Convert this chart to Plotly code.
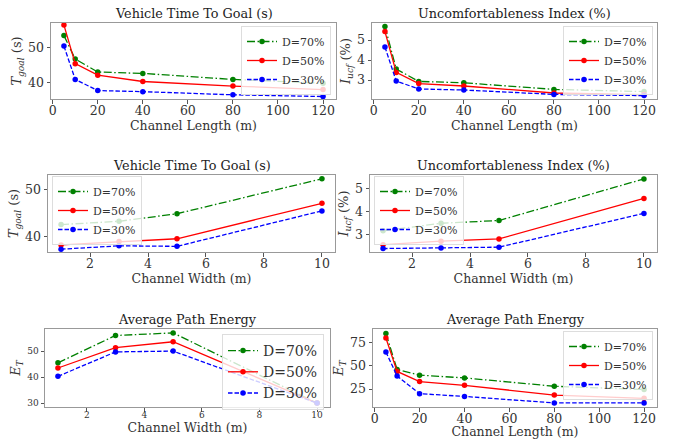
import plotly.graph_objects as go

# ---- data ----
length_x = [5, 10, 20, 40, 80, 120]
width_x = [1, 3, 5, 10]
labels = ["D=70%", "D=50%", "D=30%"]

tgoal_len = {
    "D=70%": [53.5, 46.8, 43.1, 42.7, 41.0, 39.9],
    "D=50%": [56.5, 45.5, 42.2, 40.4, 39.1, 38.1],
    "D=30%": [50.5, 41.0, 37.8, 37.5, 36.6, 36.1],
}
iucf_len = {
    "D=70%": [5.68, 3.55, 2.93, 2.86, 2.53, 2.42],
    "D=50%": [5.42, 3.38, 2.82, 2.70, 2.35, 2.27],
    "D=30%": [4.65, 2.95, 2.55, 2.50, 2.28, 2.22],
}
tgoal_wid = {
    "D=70%": [42.5, 43.2, 44.8, 52.2],
    "D=50%": [38.2, 38.9, 39.5, 47.0],
    "D=30%": [37.3, 38.0, 37.9, 45.4],
}
iucf_wid = {
    "D=70%": [3.17, 3.50, 3.62, 5.43],
    "D=50%": [2.57, 2.72, 2.82, 4.58],
    "D=30%": [2.40, 2.42, 2.46, 3.93],
}
energy_wid = {
    "D=70%": [45.5, 56.0, 57.0, 30.0],
    "D=50%": [43.5, 51.3, 53.6, 30.0],
    "D=30%": [40.3, 49.7, 50.0, 30.0],
}
energy_len = {
    "D=70%": [85.0, 46.0, 40.0, 37.0, 28.0, 24.5],
    "D=50%": [80.0, 44.0, 33.0, 29.0, 18.5, 15.0],
    "D=30%": [65.0, 39.0, 20.0, 17.0, 10.0, 10.0],
}

length_ticks = [0, 20, 40, 60, 80, 100, 120]
width_ticks = [2, 4, 6, 8, 10]

styles = {
    "D=70%": dict(color="#008000", dash="8px,2.5px,1.5px,2.5px"),
    "D=50%": dict(color="#ff0000", dash="solid"),
    "D=30%": dict(color="#0000ff", dash="4.5px,2px"),
}

FONT = "DejaVu Serif"
W, H = 678, 439

def px_dom_x(a, b):
    return [a / W, b / W]

def px_dom_y(top, bottom):
    return [1 - bottom / H, 1 - top / H]

panels = [
    dict(x=length_x, data=tgoal_len, title="Vehicle Time To Goal (s)",
         xt="Channel Length (m)", yt="<i>T</i><sub><i>goal</i></sub> (s)",
         dx=px_dom_x(51, 336), dy=px_dom_y(23, 99), xr=[-0.75, 125.75], yr=[35.4, 57.1],
         xtv=length_ticks, ytv=[40, 50], tick=12.5,
         leg=dict(x=331 / W, y=1 - 26 / H, xanchor="right", yanchor="top"), legfont=11),
    dict(x=length_x, data=iucf_len, title="Uncomfortableness Index (%)",
         xt="Channel Length (m)", yt="<i>I</i><sub><i>ucf</i></sub> (%)",
         dx=px_dom_x(372, 657), dy=px_dom_y(23, 99), xr=[-0.75, 125.75], yr=[2.05, 5.85],
         xtv=length_ticks, ytv=[3, 4, 5], tick=12.5,
         leg=dict(x=653 / W, y=1 - 26 / H, xanchor="right", yanchor="top"), legfont=11),
    dict(x=width_x, data=tgoal_wid, title="Vehicle Time To Goal (s)",
         xt="Channel Width (m)", yt="<i>T</i><sub><i>goal</i></sub> (s)",
         dx=px_dom_x(48, 335), dy=px_dom_y(175, 252), xr=[0.55, 10.45], yr=[36.7, 53.0],
         xtv=width_ticks, ytv=[40, 50], tick=12.5,
         leg=dict(x=52 / W, y=1 - 176 / H, xanchor="left", yanchor="top"), legfont=11),
    dict(x=width_x, data=iucf_wid, title="Uncomfortableness Index (%)",
         xt="Channel Width (m)", yt="<i>I</i><sub><i>ucf</i></sub> (%)",
         dx=px_dom_x(370, 657), dy=px_dom_y(175, 252), xr=[0.55, 10.45], yr=[2.25, 5.6],
         xtv=width_ticks, ytv=[3, 4, 5], tick=12.5,
         leg=dict(x=374 / W, y=1 - 176 / H, xanchor="left", yanchor="top"), legfont=11),
    dict(x=width_x, data=energy_wid, title="Average Path Energy",
         xt="Channel Width (m)", yt="<i>E</i><sub><i>T</i></sub>",
         dx=px_dom_x(45, 330), dy=px_dom_y(329, 407), xr=[0.55, 10.45], yr=[28.5, 58.5],
         xtv=width_ticks, ytv=[30, 40, 50], tick=9,
         leg=dict(x=324 / W, y=1 - 334 / H, xanchor="right", yanchor="top"), legfont=14),
    dict(x=length_x, data=energy_len, title="Average Path Energy",
         xt="Channel Length (m)", yt="<i>E</i><sub><i>T</i></sub>",
         dx=px_dom_x(373, 657), dy=px_dom_y(329, 407), xr=[-0.75, 125.75], yr=[5.6, 89.8],
         xtv=length_ticks, ytv=[25, 50, 75], tick=12.5,
         leg=dict(x=653 / W, y=1 - 331 / H, xanchor="right", yanchor="top"), legfont=11),
]

fig = go.Figure()
layout = dict(
    width=W, height=H, margin=dict(l=0, r=0, t=0, b=0, autoexpand=False),
    paper_bgcolor="white", plot_bgcolor="white",
    font=dict(family=FONT, size=12, color="#222"),
    showlegend=True, annotations=[],
)

for i, p in enumerate(panels, start=1):
    sfx = "" if i == 1 else str(i)
    legname = "legend" if i == 1 else f"legend{i}"
    for lab in labels:
        st = styles[lab]
        fig.add_trace(go.Scatter(
            x=p["x"], y=p["data"][lab], name=lab, mode="lines+markers",
            line=dict(color=st["color"], dash=st["dash"], width=1.3),
            marker=dict(color=st["color"], size=5.5),
            xaxis=f"x{sfx}", yaxis=f"y{sfx}", legend=legname,
        ))
    axcommon = dict(showline=True, linecolor="#999", linewidth=1, mirror=True,
                    showgrid=False, zeroline=False, ticks="outside", tickcolor="#555",
                    ticklen=3.5, tickfont=dict(size=p["tick"], family=FONT, color="#333"))
    layout[f"xaxis{sfx}"] = dict(
        domain=p["dx"], range=p["xr"], tickvals=p["xtv"], anchor=f"y{sfx}",
        ticklabelstandoff=-4,
        title=dict(text=p["xt"], font=dict(size=12.5, family=FONT, color="#333"), standoff=1),
        **axcommon)
    layout[f"yaxis{sfx}"] = dict(
        domain=p["dy"], range=p["yr"], tickvals=p["ytv"], anchor=f"x{sfx}",
        title=dict(text=p["yt"], font=dict(size=13, family=FONT, color="#333"), standoff=3),
        **axcommon)
    leg = dict(p["leg"])
    leg.update(bgcolor="rgba(255,255,255,0.8)", bordercolor="#ddd", borderwidth=1,
               font=dict(size=p["legfont"], family=FONT, color="#333"),
               itemwidth=30, tracegroupgap=0)
    layout[legname] = leg
    layout["annotations"].append(dict(
        text=p["title"], xref="paper", yref="paper",
        x=(p["dx"][0] + p["dx"][1]) / 2, y=p["dy"][1], xanchor="center", yanchor="bottom",
        yshift=0, showarrow=False, font=dict(size=12.8, family=FONT, color="#222"),
    ))

fig.update_layout(**layout)
fig.write_html(
    "out.html",
    config={"displayModeBar": False},
    post_script="document.body.style.margin='0px';document.body.style.overflow='hidden';",
)
